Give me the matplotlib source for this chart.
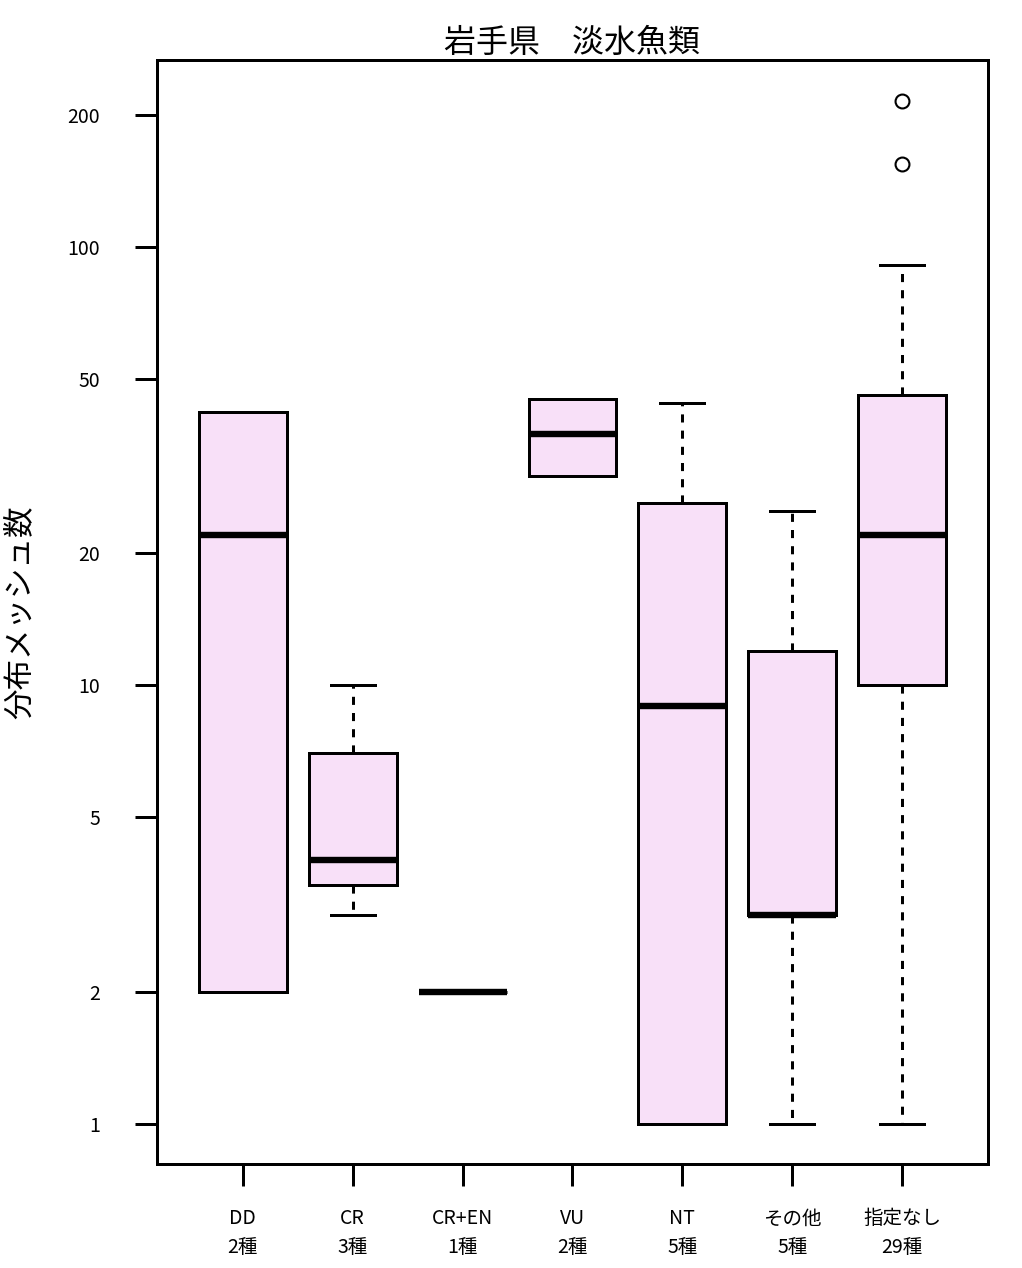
import matplotlib
matplotlib.use("Agg")
import matplotlib.pyplot as plt

plt.rcParams['font.family'] = ['Noto Sans CJK JP', 'DejaVu Sans']

# ランク別の分布メッシュ数（箱ひげ図の統計量）
categories = ["DD", "CR", "CR+EN", "VU", "NT", "その他", "指定なし"]
n_species = [2, 3, 1, 2, 5, 5, 29]
whislo = [2, 3, 2, 30, 1, 1, 1]
q1 = [2, 3.5, 2, 30, 1, 3, 10]
med = [22, 4, 2, 37.5, 9, 3, 22]
q3 = [42, 7, 2, 45, 26, 12, 46]
whishi = [42, 10, 2, 45, 44, 25, 91]
fliers = [[], [], [], [], [], [], [155, 215]]

yticks = [1, 2, 5, 10, 20, 50, 100, 200]

fill = "#F8E0F8"
lw = 2.16


def main():
    stats = []
    for i in range(len(categories)):
        stats.append({
            "label": f"{categories[i]}\n{n_species[i]}種",
            "whislo": whislo[i], "q1": q1[i], "med": med[i],
            "q3": q3[i], "whishi": whishi[i], "fliers": fliers[i],
        })

    fig = plt.figure(figsize=(10.22, 12.68), dpi=100)
    ax = fig.add_axes([0.1536, 0.0820, 0.8131, 0.8707])

    ax.bxp(stats, positions=range(1, len(categories) + 1), widths=0.8,
           capwidths=0.4, patch_artist=True,
           boxprops=dict(facecolor=fill, edgecolor="black", linewidth=lw),
           medianprops=dict(color="black", linewidth=4.6, solid_capstyle="butt"),
           whiskerprops=dict(color="black", linewidth=lw, linestyle=(0, (2.7, 2.7))),
           capprops=dict(color="black", linewidth=lw),
           flierprops=dict(marker="o", markerfacecolor="none",
                           markeredgecolor="black", markersize=10,
                           markeredgewidth=1.5))

    ax.set_yscale("log")
    ax.set_ylim(0.81, 267)
    ax.set_xlim(0.22, 7.78)
    ax.set_yticks(yticks)
    ax.set_yticklabels([str(v) for v in yticks])
    ax.minorticks_off()

    ax.tick_params(axis="both", direction="out", length=16, width=lw,
                   labelsize=14)
    ax.tick_params(axis="y", pad=25)
    ax.tick_params(axis="x", pad=16)
    for lab in ax.get_xticklabels():
        lab.set_linespacing(1.45)

    for sp in ax.spines.values():
        sp.set_linewidth(lw)

    ax.set_title("岩手県　淡水魚類", fontsize=23, pad=6)
    fig.text(0.0196, 0.5174, "分布メッシュ数", rotation=90, fontsize=22,
             ha="center", va="center")

    fig.savefig("out.png", dpi=100)


if __name__ == "__main__":
    main()
